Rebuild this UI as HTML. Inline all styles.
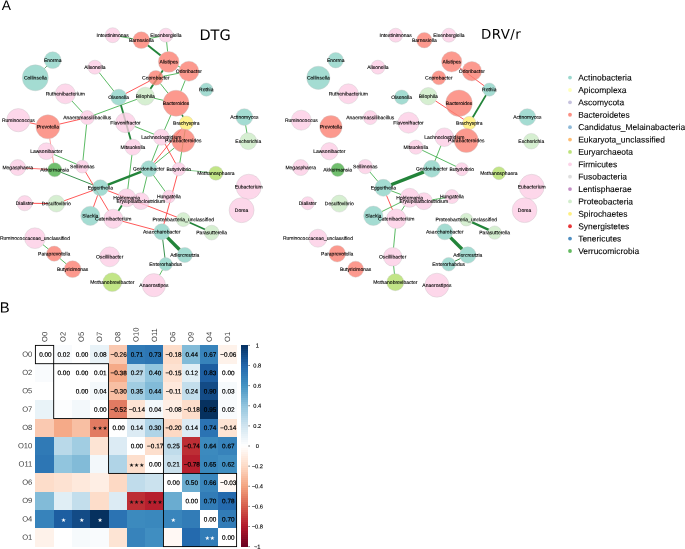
<!DOCTYPE html>
<html><head><meta charset="utf-8"><title>Figure</title><style>
html,body{margin:0;padding:0;background:#fff}
svg{display:block}
text{font-family:"Liberation Sans","DejaVu Sans",sans-serif;fill:#000}
.nl text{font-size:5px;text-anchor:middle;stroke:#000;stroke-width:.1px}
.pl{font-size:14.8px}
.tt{font-family:"DejaVu Sans","Liberation Sans",sans-serif}
.lg text{font-size:8.45px;stroke:#000;stroke-width:.1px}
.cv text{font-size:6.4px;text-anchor:middle;stroke:#000;stroke-width:.2px}
.st text{font-size:5.7px;text-anchor:middle;font-family:"DejaVu Sans",sans-serif}
.rl text{font-size:7.6px;fill:#3a3a3a}
.cl text{font-size:5.7px;text-anchor:middle;stroke:#000;stroke-width:.12px}
</style></head>
<body><svg width="685" height="549" viewBox="0 0 685 549">
<rect width="685" height="549" fill="#fff"/>
<g stroke-linecap="butt">
<line x1="119.89" y1="36.46" x2="133.22" y2="38.79" stroke="#3DAE48" stroke-width="0.85"/>
<line x1="149.34" y1="38.57" x2="159.24" y2="36.55" stroke="#3DAE48" stroke-width="0.85"/>
<line x1="166.61" y1="41.96" x2="167.63" y2="51.66" stroke="#3DAE48" stroke-width="0.85"/>
<line x1="46.93" y1="66.03" x2="44.3" y2="68.7" stroke="#23843A" stroke-width="0.7"/>
<line x1="99.13" y1="72.53" x2="113.85" y2="91.09" stroke="#3DAE48" stroke-width="0.85"/>
<line x1="71.95" y1="101" x2="82.68" y2="112.61" stroke="#3DAE48" stroke-width="0.85"/>
<line x1="93.68" y1="115.25" x2="137.04" y2="99.25" stroke="#3DAE48" stroke-width="0.85"/>
<line x1="86.61" y1="124.36" x2="82.93" y2="160.43" stroke="#3DAE48" stroke-width="0.85"/>
<line x1="53.84" y1="154.43" x2="76.6" y2="164.16" stroke="#3DAE48" stroke-width="0.85"/>
<line x1="162.86" y1="76.39" x2="179.29" y2="73.12" stroke="#3DAE48" stroke-width="0.85"/>
<line x1="177.95" y1="66.1" x2="180.01" y2="67.07" stroke="#3DAE48" stroke-width="0.85"/>
<line x1="160.28" y1="83.44" x2="168.03" y2="93.18" stroke="#3DAE48" stroke-width="0.85"/>
<line x1="185.24" y1="80.29" x2="180.79" y2="91.33" stroke="#3DAE48" stroke-width="0.85"/>
<line x1="153.88" y1="98.16" x2="163.52" y2="100.35" stroke="#3DAE48" stroke-width="0.85"/>
<line x1="170.92" y1="114.95" x2="164.4" y2="130.04" stroke="#3DAE48" stroke-width="0.85"/>
<line x1="181.91" y1="114.56" x2="183.16" y2="116.97" stroke="#23843A" stroke-width="1.5"/>
<line x1="185.21" y1="129.71" x2="179.83" y2="162.88" stroke="#3DAE48" stroke-width="0.85"/>
<line x1="134.58" y1="126.38" x2="154.07" y2="134.27" stroke="#3DAE48" stroke-width="0.85"/>
<line x1="158.43" y1="144.45" x2="151.67" y2="161.55" stroke="#3DAE48" stroke-width="0.85"/>
<line x1="174.47" y1="147.81" x2="154.84" y2="163.86" stroke="#3DAE48" stroke-width="0.85"/>
<line x1="185.16" y1="169.89" x2="209.14" y2="172.47" stroke="#3DAE48" stroke-width="0.6"/>
<line x1="153.37" y1="175.12" x2="165.27" y2="191.58" stroke="#3DAE48" stroke-width="0.85"/>
<line x1="146.95" y1="176.38" x2="142.84" y2="193.23" stroke="#3DAE48" stroke-width="0.85"/>
<line x1="131.95" y1="154.94" x2="127.77" y2="189.07" stroke="#3DAE48" stroke-width="0.85"/>
<line x1="245.64" y1="125.19" x2="246.96" y2="133.11" stroke="#3DAE48" stroke-width="0.85"/>
<line x1="42.85" y1="244.59" x2="48.43" y2="249.07" stroke="#3DAE48" stroke-width="0.85"/>
<line x1="59.86" y1="258.47" x2="66.33" y2="263.92" stroke="#3DAE48" stroke-width="0.85"/>
<line x1="162.56" y1="269.78" x2="159.48" y2="275.26" stroke="#3DAE48" stroke-width="0.85"/>
<line x1="147.74" y1="45.28" x2="160.69" y2="55.49" stroke="#23843A" stroke-width="1.9"/>
<line x1="162.96" y1="70.23" x2="150.25" y2="88.92" stroke="#23843A" stroke-width="1.9"/>
<line x1="120.83" y1="104.7" x2="130.77" y2="139.7" stroke="#23843A" stroke-width="1.8"/>
<line x1="107.56" y1="184.95" x2="141.54" y2="171.65" stroke="#23843A" stroke-width="2.4"/>
<line x1="61.03" y1="172.3" x2="93.04" y2="184.94" stroke="#23843A" stroke-width="0.9"/>
<line x1="121.97" y1="205.22" x2="118.36" y2="210.88" stroke="#23843A" stroke-width="1.8"/>
<line x1="189.48" y1="222.43" x2="205.15" y2="229.6" stroke="#23843A" stroke-width="1.6"/>
<line x1="167.29" y1="237.34" x2="179.59" y2="249.74" stroke="#23843A" stroke-width="3.4"/>
<line x1="162.73" y1="239.54" x2="164.94" y2="257.85" stroke="#23843A" stroke-width="0.9"/>
<line x1="125.61" y1="93.59" x2="149.42" y2="81.14" stroke="#FF3B3B" stroke-width="0.85"/>
<line x1="29.43" y1="122.68" x2="36.38" y2="124.23" stroke="#FF3B3B" stroke-width="0.85"/>
<line x1="59.39" y1="124.12" x2="80.68" y2="119.15" stroke="#FF3B3B" stroke-width="0.85"/>
<line x1="49.74" y1="138.46" x2="53.64" y2="163.08" stroke="#FF8A8A" stroke-width="0.85"/>
<line x1="25.49" y1="168.06" x2="47.91" y2="169.4" stroke="#FF3B3B" stroke-width="0.7"/>
<line x1="85.47" y1="171.93" x2="108.5" y2="210.72" stroke="#FF3B3B" stroke-width="0.85"/>
<line x1="92.96" y1="190.44" x2="64.02" y2="200.83" stroke="#FF3B3B" stroke-width="0.85"/>
<line x1="32.1" y1="203.29" x2="48.1" y2="203.5" stroke="#FF3B3B" stroke-width="0.9"/>
<line x1="97.68" y1="195.15" x2="93.46" y2="206.95" stroke="#FF3B3B" stroke-width="0.85"/>
<line x1="107.58" y1="190.59" x2="176.95" y2="217.17" stroke="#FF3B3B" stroke-width="0.85"/>
<line x1="122.38" y1="221.23" x2="154.27" y2="229.78" stroke="#FF3B3B" stroke-width="0.85"/>
<line x1="177.12" y1="175.38" x2="163.84" y2="224.27" stroke="#FF3B3B" stroke-width="0.85"/>
<line x1="165.04" y1="144.04" x2="175.73" y2="163.58" stroke="#FF3B3B" stroke-width="0.85"/>
<line x1="181.99" y1="128.26" x2="153.74" y2="162.76" stroke="#FF3B3B" stroke-width="0.85"/>
</g>
<g stroke="#c4c4c4" stroke-width="0.4" fill-opacity="0.8" stroke-opacity="0.9">
<circle cx="112.7" cy="35.2" r="7.5" fill="#FCCDE5"/>
<circle cx="141.3" cy="40.2" r="8.4" fill="#FB8072"/>
<circle cx="165.9" cy="35.2" r="7" fill="#FCCDE5"/>
<circle cx="52.7" cy="60.2" r="8.4" fill="#8DD3C7"/>
<circle cx="35.3" cy="77.8" r="13" fill="#8DD3C7"/>
<circle cx="94.9" cy="67.2" r="7" fill="#FCCDE5"/>
<circle cx="168.7" cy="61.8" r="10.4" fill="#FB8072"/>
<circle cx="188.9" cy="71.2" r="10" fill="#FB8072"/>
<circle cx="155.8" cy="77.8" r="7.4" fill="#FB8072"/>
<circle cx="206.3" cy="89.6" r="6.6" fill="#8DD3C7"/>
<circle cx="65.3" cy="93.8" r="10" fill="#FCCDE5"/>
<circle cx="118.7" cy="97.2" r="8" fill="#8DD3C7"/>
<circle cx="145.3" cy="96.2" r="9" fill="#CCEBC5"/>
<circle cx="176" cy="103.2" r="13" fill="#FB8072"/>
<circle cx="18.3" cy="120.2" r="11.6" fill="#FCCDE5"/>
<circle cx="47.9" cy="126.8" r="12" fill="#FB8072"/>
<circle cx="87.3" cy="117.6" r="7" fill="#FCCDE5"/>
<circle cx="125.5" cy="122.7" r="10" fill="#FCCDE5"/>
<circle cx="186.3" cy="123" r="7" fill="#FFED6F"/>
<circle cx="244.3" cy="117.1" r="8.4" fill="#8DD3C7"/>
<circle cx="161.3" cy="137.2" r="8" fill="#FCCDE5"/>
<circle cx="183.3" cy="140.6" r="11.6" fill="#FB8072"/>
<circle cx="248.3" cy="141.2" r="8.4" fill="#CCEBC5"/>
<circle cx="132.9" cy="147.2" r="8" fill="#FCCDE5"/>
<circle cx="46.3" cy="151.2" r="8.4" fill="#FCCDE5"/>
<circle cx="17.7" cy="167.6" r="8" fill="#FCCDE5"/>
<circle cx="54.7" cy="169.8" r="7" fill="#4DAF4A"/>
<circle cx="82.3" cy="166.6" r="6.4" fill="#FCCDE5"/>
<circle cx="148.8" cy="168.8" r="8" fill="#8DD3C7"/>
<circle cx="178.8" cy="169.2" r="6.6" fill="#FCCDE5"/>
<circle cx="215.9" cy="173.2" r="7" fill="#B3DE69"/>
<circle cx="100.3" cy="187.8" r="8" fill="#8DD3C7"/>
<circle cx="248.7" cy="186.8" r="12.6" fill="#FCCDE5"/>
<circle cx="126.7" cy="197.8" r="9" fill="#FCCDE5"/>
<circle cx="140.9" cy="201.2" r="8.4" fill="#FCCDE5"/>
<circle cx="168.9" cy="196.6" r="6.4" fill="#FCCDE5"/>
<circle cx="24.7" cy="203.2" r="7.6" fill="#FCCDE5"/>
<circle cx="56.3" cy="203.6" r="8.4" fill="#CCEBC5"/>
<circle cx="241.6" cy="210.2" r="12.5" fill="#FCCDE5"/>
<circle cx="90.3" cy="215.8" r="9.6" fill="#8DD3C7"/>
<circle cx="113.3" cy="218.8" r="9.6" fill="#FCCDE5"/>
<circle cx="183.3" cy="219.6" r="7" fill="#CCEBC5"/>
<circle cx="161.8" cy="231.8" r="8" fill="#8DD3C7"/>
<circle cx="211.7" cy="232.6" r="7.4" fill="#CCEBC5"/>
<circle cx="34.9" cy="238.2" r="10.4" fill="#FCCDE5"/>
<circle cx="54.2" cy="253.7" r="7.6" fill="#FB8072"/>
<circle cx="184.8" cy="255" r="7.6" fill="#8DD3C7"/>
<circle cx="109.7" cy="256.8" r="10" fill="#FCCDE5"/>
<circle cx="165.7" cy="264.2" r="6.6" fill="#8DD3C7"/>
<circle cx="72.6" cy="269.2" r="8.4" fill="#FB8072"/>
<circle cx="112.3" cy="282.2" r="9.4" fill="#B3DE69"/>
<circle cx="153.9" cy="285.2" r="11.6" fill="#FCCDE5"/>
</g>
<g class="nl">
<text x="112.7" y="36.9" transform="rotate(.05 112.7 36.9)">Intestinimonas</text>
<text x="141.3" y="41.9" transform="rotate(.05 141.3 41.9)">Barnesiella</text>
<text x="165.9" y="36.9" transform="rotate(.05 165.9 36.9)">Eisenbergiella</text>
<text x="52.7" y="61.9" transform="rotate(.05 52.7 61.9)">Enorma</text>
<text x="35.3" y="79.5" transform="rotate(.05 35.3 79.5)">Collinsella</text>
<text x="94.9" y="68.9" transform="rotate(.05 94.9 68.9)">Alisonella</text>
<text x="168.7" y="63.5" transform="rotate(.05 168.7 63.5)">Alistipes</text>
<text x="188.9" y="72.9" transform="rotate(.05 188.9 72.9)">Odoribacter</text>
<text x="155.8" y="79.5" transform="rotate(.05 155.8 79.5)">Coprobacter</text>
<text x="206.3" y="91.3" transform="rotate(.05 206.3 91.3)">Rothia</text>
<text x="65.3" y="95.5" transform="rotate(.05 65.3 95.5)">Ruthenibacterium</text>
<text x="118.7" y="98.9" transform="rotate(.05 118.7 98.9)">Olsenella</text>
<text x="145.3" y="97.9" transform="rotate(.05 145.3 97.9)">Bilophila</text>
<text x="176" y="104.9" transform="rotate(.05 176 104.9)">Bacteroides</text>
<text x="18.3" y="121.9" transform="rotate(.05 18.3 121.9)">Ruminococcus</text>
<text x="47.9" y="128.5" transform="rotate(.05 47.9 128.5)">Prevotella</text>
<text x="87.3" y="119.3" transform="rotate(.05 87.3 119.3)">Anaeromassilibacillus</text>
<text x="125.5" y="124.4" transform="rotate(.05 125.5 124.4)">Flavonifractor</text>
<text x="186.3" y="124.7" transform="rotate(.05 186.3 124.7)">Brachyspira</text>
<text x="244.3" y="118.8" transform="rotate(.05 244.3 118.8)">Actinomyces</text>
<text x="161.3" y="138.9" transform="rotate(.05 161.3 138.9)">Lachnoclostridium</text>
<text x="183.3" y="142.3" transform="rotate(.05 183.3 142.3)">Parabacteroides</text>
<text x="248.3" y="142.9" transform="rotate(.05 248.3 142.9)">Escherichia</text>
<text x="132.9" y="148.9" transform="rotate(.05 132.9 148.9)">Mitsuokella</text>
<text x="46.3" y="152.9" transform="rotate(.05 46.3 152.9)">Lawsonibacter</text>
<text x="17.7" y="169.3" transform="rotate(.05 17.7 169.3)">Megasphaera</text>
<text x="54.7" y="171.5" transform="rotate(.05 54.7 171.5)">Akkermansia</text>
<text x="82.3" y="168.3" transform="rotate(.05 82.3 168.3)">Sellimonas</text>
<text x="148.8" y="170.5" transform="rotate(.05 148.8 170.5)">Gordonibacter</text>
<text x="178.8" y="170.9" transform="rotate(.05 178.8 170.9)">Butyrivibrio</text>
<text x="215.9" y="174.9" transform="rotate(.05 215.9 174.9)">Methanosphaera</text>
<text x="100.3" y="189.5" transform="rotate(.05 100.3 189.5)">Eggerthella</text>
<text x="248.7" y="188.5" transform="rotate(.05 248.7 188.5)">Eubacterium</text>
<text x="126.7" y="199.5" transform="rotate(.05 126.7 199.5)">Holdemania</text>
<text x="140.9" y="202.9" transform="rotate(.05 140.9 202.9)">Erysipelatoclostridium</text>
<text x="168.9" y="198.3" transform="rotate(.05 168.9 198.3)">Hungatella</text>
<text x="24.7" y="204.9" transform="rotate(.05 24.7 204.9)">Dialister</text>
<text x="56.3" y="205.3" transform="rotate(.05 56.3 205.3)">Desulfovibrio</text>
<text x="241.6" y="211.9" transform="rotate(.05 241.6 211.9)">Dorea</text>
<text x="90.3" y="217.5" transform="rotate(.05 90.3 217.5)">Slackia</text>
<text x="113.3" y="220.5" transform="rotate(.05 113.3 220.5)">Catenibacterium</text>
<text x="183.3" y="221.3" transform="rotate(.05 183.3 221.3)">Proteobacteria_unclassified</text>
<text x="161.8" y="233.5" transform="rotate(.05 161.8 233.5)">Asaccharobacter</text>
<text x="211.7" y="234.3" transform="rotate(.05 211.7 234.3)">Parasutterella</text>
<text x="34.9" y="239.9" transform="rotate(.05 34.9 239.9)">Ruminococcaceae_unclassified</text>
<text x="54.2" y="255.4" transform="rotate(.05 54.2 255.4)">Paraprevotella</text>
<text x="184.8" y="256.7" transform="rotate(.05 184.8 256.7)">Adlercreutzia</text>
<text x="109.7" y="258.5" transform="rotate(.05 109.7 258.5)">Oscillibacter</text>
<text x="165.7" y="265.9" transform="rotate(.05 165.7 265.9)">Enterorhabdus</text>
<text x="72.6" y="270.9" transform="rotate(.05 72.6 270.9)">Butyricimonas</text>
<text x="112.3" y="283.9" transform="rotate(.05 112.3 283.9)">Methanobrevibacter</text>
<text x="153.9" y="286.9" transform="rotate(.05 153.9 286.9)">Anaerostipes</text>
</g>
<g stroke-linecap="butt">
<line x1="459.74" y1="67.75" x2="484.15" y2="85.8" stroke="#FF3B3B" stroke-width="0.85"/>
<line x1="486.01" y1="95.09" x2="472.64" y2="117.42" stroke="#23843A" stroke-width="1.8"/>
<line x1="435.41" y1="100.85" x2="463.86" y2="119.44" stroke="#FF3B3B" stroke-width="0.85"/>
<line x1="422.12" y1="150.18" x2="456.12" y2="166.48" stroke="#3DAE48" stroke-width="0.85"/>
<line x1="440.95" y1="145.66" x2="434.85" y2="161.08" stroke="#3DAE48" stroke-width="0.85"/>
<line x1="369.83" y1="171.94" x2="377.93" y2="181.47" stroke="#3DAE48" stroke-width="0.85"/>
<line x1="391.03" y1="184.77" x2="424.07" y2="171.83" stroke="#23843A" stroke-width="3.4"/>
<line x1="391.06" y1="190.74" x2="401" y2="194.51" stroke="#3DAE48" stroke-width="0.85"/>
<line x1="386.51" y1="195.45" x2="392.59" y2="209.95" stroke="#FF3B3B" stroke-width="0.85"/>
<line x1="381.82" y1="211.59" x2="401.36" y2="201.92" stroke="#3DAE48" stroke-width="0.85"/>
<line x1="404.7" y1="205.64" x2="401.46" y2="210.71" stroke="#3DAE48" stroke-width="0.85"/>
<line x1="432.09" y1="199.85" x2="445.19" y2="197.7" stroke="#3DAE48" stroke-width="0.85"/>
<line x1="395.39" y1="228.36" x2="393.56" y2="247.74" stroke="#3DAE48" stroke-width="0.85"/>
<line x1="393.63" y1="265.85" x2="394.45" y2="273.94" stroke="#3DAE48" stroke-width="0.85"/>
<line x1="471.94" y1="222.18" x2="488.79" y2="229.89" stroke="#23843A" stroke-width="2.3"/>
<line x1="450.29" y1="237.34" x2="462.17" y2="249.32" stroke="#23843A" stroke-width="3.4"/>
<line x1="460.59" y1="258.47" x2="454.65" y2="261.34" stroke="#23843A" stroke-width="0.9"/>
</g>
<g stroke="#c4c4c4" stroke-width="0.4" fill-opacity="0.8" stroke-opacity="0.9">
<circle cx="395.7" cy="35.2" r="7" fill="#FCCDE5"/>
<circle cx="424.3" cy="40.2" r="7.7" fill="#FB8072"/>
<circle cx="448.9" cy="35.2" r="7" fill="#FCCDE5"/>
<circle cx="335.7" cy="60.2" r="7.7" fill="#8DD3C7"/>
<circle cx="318.3" cy="77.8" r="11.6" fill="#8DD3C7"/>
<circle cx="377.9" cy="67.2" r="7" fill="#FCCDE5"/>
<circle cx="451.7" cy="61.8" r="10.2" fill="#FB8072"/>
<circle cx="471.9" cy="71.2" r="9.7" fill="#FB8072"/>
<circle cx="438.8" cy="77.8" r="7" fill="#FB8072"/>
<circle cx="489.3" cy="89.6" r="6.6" fill="#8DD3C7"/>
<circle cx="348.3" cy="93.8" r="10" fill="#FCCDE5"/>
<circle cx="401.7" cy="97.2" r="7.2" fill="#8DD3C7"/>
<circle cx="428.3" cy="96.2" r="8.7" fill="#CCEBC5"/>
<circle cx="459" cy="103.2" r="13.3" fill="#FB8072"/>
<circle cx="301.3" cy="120.2" r="10" fill="#FCCDE5"/>
<circle cx="330.9" cy="126.8" r="11.2" fill="#FB8072"/>
<circle cx="370.3" cy="117.6" r="7" fill="#FCCDE5"/>
<circle cx="408.5" cy="122.7" r="10.5" fill="#FCCDE5"/>
<circle cx="469.3" cy="123" r="6.7" fill="#FFED6F"/>
<circle cx="527.3" cy="117.1" r="8.4" fill="#8DD3C7"/>
<circle cx="444.3" cy="137.2" r="9.3" fill="#FCCDE5"/>
<circle cx="466.3" cy="140.6" r="12" fill="#FB8072"/>
<circle cx="531.3" cy="141.2" r="7.8" fill="#CCEBC5"/>
<circle cx="415.9" cy="147.2" r="7.1" fill="#FCCDE5"/>
<circle cx="329.3" cy="151.2" r="8.6" fill="#FCCDE5"/>
<circle cx="300.7" cy="167.6" r="8" fill="#FCCDE5"/>
<circle cx="337.7" cy="169.8" r="6.7" fill="#4DAF4A"/>
<circle cx="365.3" cy="166.6" r="7.2" fill="#FCCDE5"/>
<circle cx="431.8" cy="168.8" r="8.5" fill="#8DD3C7"/>
<circle cx="461.8" cy="169.2" r="6.5" fill="#FCCDE5"/>
<circle cx="498.9" cy="173.2" r="6.5" fill="#B3DE69"/>
<circle cx="383.3" cy="187.8" r="8.5" fill="#8DD3C7"/>
<circle cx="531.7" cy="186.8" r="12.5" fill="#FCCDE5"/>
<circle cx="409.7" cy="197.8" r="9.5" fill="#FCCDE5"/>
<circle cx="423.9" cy="201.2" r="8.5" fill="#FCCDE5"/>
<circle cx="451.9" cy="196.6" r="7" fill="#FCCDE5"/>
<circle cx="307.7" cy="203.2" r="6.5" fill="#FCCDE5"/>
<circle cx="339.3" cy="203.6" r="8.5" fill="#CCEBC5"/>
<circle cx="524.6" cy="210.2" r="12.4" fill="#FCCDE5"/>
<circle cx="373.3" cy="215.8" r="9.7" fill="#8DD3C7"/>
<circle cx="396.3" cy="218.8" r="9.8" fill="#FCCDE5"/>
<circle cx="466.3" cy="219.6" r="6.4" fill="#CCEBC5"/>
<circle cx="444.8" cy="231.8" r="8" fill="#8DD3C7"/>
<circle cx="494.7" cy="232.6" r="6.7" fill="#CCEBC5"/>
<circle cx="317.9" cy="238.2" r="9" fill="#FCCDE5"/>
<circle cx="337.2" cy="253.7" r="8.3" fill="#FB8072"/>
<circle cx="467.8" cy="255" r="8.2" fill="#8DD3C7"/>
<circle cx="392.7" cy="256.8" r="9.3" fill="#FCCDE5"/>
<circle cx="448.7" cy="264.2" r="6.8" fill="#8DD3C7"/>
<circle cx="355.6" cy="269.2" r="8" fill="#FB8072"/>
<circle cx="395.3" cy="282.2" r="8.5" fill="#B3DE69"/>
<circle cx="436.9" cy="285.2" r="12" fill="#FCCDE5"/>
</g>
<g class="nl">
<text x="395.7" y="36.9" transform="rotate(.05 395.7 36.9)">Intestinimonas</text>
<text x="424.3" y="41.9" transform="rotate(.05 424.3 41.9)">Barnesiella</text>
<text x="448.9" y="36.9" transform="rotate(.05 448.9 36.9)">Eisenbergiella</text>
<text x="335.7" y="61.9" transform="rotate(.05 335.7 61.9)">Enorma</text>
<text x="318.3" y="79.5" transform="rotate(.05 318.3 79.5)">Collinsella</text>
<text x="377.9" y="68.9" transform="rotate(.05 377.9 68.9)">Alisonella</text>
<text x="451.7" y="63.5" transform="rotate(.05 451.7 63.5)">Alistipes</text>
<text x="471.9" y="72.9" transform="rotate(.05 471.9 72.9)">Odoribacter</text>
<text x="438.8" y="79.5" transform="rotate(.05 438.8 79.5)">Coprobacter</text>
<text x="489.3" y="91.3" transform="rotate(.05 489.3 91.3)">Rothia</text>
<text x="348.3" y="95.5" transform="rotate(.05 348.3 95.5)">Ruthenibacterium</text>
<text x="401.7" y="98.9" transform="rotate(.05 401.7 98.9)">Olsenella</text>
<text x="428.3" y="97.9" transform="rotate(.05 428.3 97.9)">Bilophila</text>
<text x="459" y="104.9" transform="rotate(.05 459 104.9)">Bacteroides</text>
<text x="301.3" y="121.9" transform="rotate(.05 301.3 121.9)">Ruminococcus</text>
<text x="330.9" y="128.5" transform="rotate(.05 330.9 128.5)">Prevotella</text>
<text x="370.3" y="119.3" transform="rotate(.05 370.3 119.3)">Anaeromassilibacillus</text>
<text x="408.5" y="124.4" transform="rotate(.05 408.5 124.4)">Flavonifractor</text>
<text x="469.3" y="124.7" transform="rotate(.05 469.3 124.7)">Brachyspira</text>
<text x="527.3" y="118.8" transform="rotate(.05 527.3 118.8)">Actinomyces</text>
<text x="444.3" y="138.9" transform="rotate(.05 444.3 138.9)">Lachnoclostridium</text>
<text x="466.3" y="142.3" transform="rotate(.05 466.3 142.3)">Parabacteroides</text>
<text x="531.3" y="142.9" transform="rotate(.05 531.3 142.9)">Escherichia</text>
<text x="415.9" y="148.9" transform="rotate(.05 415.9 148.9)">Mitsuokella</text>
<text x="329.3" y="152.9" transform="rotate(.05 329.3 152.9)">Lawsonibacter</text>
<text x="300.7" y="169.3" transform="rotate(.05 300.7 169.3)">Megasphaera</text>
<text x="337.7" y="171.5" transform="rotate(.05 337.7 171.5)">Akkermansia</text>
<text x="365.3" y="168.3" transform="rotate(.05 365.3 168.3)">Sellimonas</text>
<text x="431.8" y="170.5" transform="rotate(.05 431.8 170.5)">Gordonibacter</text>
<text x="461.8" y="170.9" transform="rotate(.05 461.8 170.9)">Butyrivibrio</text>
<text x="498.9" y="174.9" transform="rotate(.05 498.9 174.9)">Methanosphaera</text>
<text x="383.3" y="189.5" transform="rotate(.05 383.3 189.5)">Eggerthella</text>
<text x="531.7" y="188.5" transform="rotate(.05 531.7 188.5)">Eubacterium</text>
<text x="409.7" y="199.5" transform="rotate(.05 409.7 199.5)">Holdemania</text>
<text x="423.9" y="202.9" transform="rotate(.05 423.9 202.9)">Erysipelatoclostridium</text>
<text x="451.9" y="198.3" transform="rotate(.05 451.9 198.3)">Hungatella</text>
<text x="307.7" y="204.9" transform="rotate(.05 307.7 204.9)">Dialister</text>
<text x="339.3" y="205.3" transform="rotate(.05 339.3 205.3)">Desulfovibrio</text>
<text x="524.6" y="211.9" transform="rotate(.05 524.6 211.9)">Dorea</text>
<text x="373.3" y="217.5" transform="rotate(.05 373.3 217.5)">Slackia</text>
<text x="396.3" y="220.5" transform="rotate(.05 396.3 220.5)">Catenibacterium</text>
<text x="466.3" y="221.3" transform="rotate(.05 466.3 221.3)">Proteobacteria_unclassified</text>
<text x="444.8" y="233.5" transform="rotate(.05 444.8 233.5)">Asaccharobacter</text>
<text x="494.7" y="234.3" transform="rotate(.05 494.7 234.3)">Parasutterella</text>
<text x="317.9" y="239.9" transform="rotate(.05 317.9 239.9)">Ruminococcaceae_unclassified</text>
<text x="337.2" y="255.4" transform="rotate(.05 337.2 255.4)">Paraprevotella</text>
<text x="467.8" y="256.7" transform="rotate(.05 467.8 256.7)">Adlercreutzia</text>
<text x="392.7" y="258.5" transform="rotate(.05 392.7 258.5)">Oscillibacter</text>
<text x="448.7" y="265.9" transform="rotate(.05 448.7 265.9)">Enterorhabdus</text>
<text x="355.6" y="270.9" transform="rotate(.05 355.6 270.9)">Butyricimonas</text>
<text x="395.3" y="283.9" transform="rotate(.05 395.3 283.9)">Methanobrevibacter</text>
<text x="436.9" y="286.9" transform="rotate(.05 436.9 286.9)">Anaerostipes</text>
</g>
<text class="pl" x="1.7" y="10" style="font-size:13.8px" transform="rotate(.05 1.7 10)">A</text>
<text class="pl" x="-0.2" y="312.6" transform="rotate(.05 -0.2 312.6)">B</text>
<text class="tt" x="199.4" y="40" font-size="14.5" transform="rotate(.05 199.4 40)">DTG</text>
<text class="tt" x="480.9" y="38.7" font-size="13.4" letter-spacing=".45" transform="rotate(.05 480.9 38.7)">DRV/r</text>
<g class="lg">
<circle cx="570" cy="77.6" r="1.9" fill="#8DD3C7" fill-opacity=".88"/><text x="578.2" y="80.5" transform="rotate(.05 578.2 80.5)">Actinobacteria</text>
<circle cx="570" cy="89.99" r="1.9" fill="#FFFFB3" fill-opacity=".88"/><text x="578.2" y="92.89" transform="rotate(.05 578.2 92.89)">Apicomplexa</text>
<circle cx="570" cy="102.37" r="1.9" fill="#BEBADA" fill-opacity=".88"/><text x="578.2" y="105.27" transform="rotate(.05 578.2 105.27)">Ascomycota</text>
<circle cx="570" cy="114.76" r="1.9" fill="#FB8072" fill-opacity=".88"/><text x="578.2" y="117.66" transform="rotate(.05 578.2 117.66)">Bacteroidetes</text>
<circle cx="570" cy="127.14" r="1.9" fill="#80B1D3" fill-opacity=".88"/><text x="578.2" y="130.04" transform="rotate(.05 578.2 130.04)">Candidatus_Melainabacteria</text>
<circle cx="570" cy="139.53" r="1.9" fill="#FDB462" fill-opacity=".88"/><text x="578.2" y="142.43" transform="rotate(.05 578.2 142.43)">Eukaryota_unclassified</text>
<circle cx="570" cy="151.92" r="1.9" fill="#B3DE69" fill-opacity=".88"/><text x="578.2" y="154.82" transform="rotate(.05 578.2 154.82)">Euryarchaeota</text>
<circle cx="570" cy="164.3" r="1.9" fill="#FCCDE5" fill-opacity=".88"/><text x="578.2" y="167.2" transform="rotate(.05 578.2 167.2)">Firmicutes</text>
<circle cx="570" cy="176.69" r="1.9" fill="#D9D9D9" fill-opacity=".88"/><text x="578.2" y="179.59" transform="rotate(.05 578.2 179.59)">Fusobacteria</text>
<circle cx="570" cy="189.07" r="1.9" fill="#BC80BD" fill-opacity=".88"/><text x="578.2" y="191.97" transform="rotate(.05 578.2 191.97)">Lentisphaerae</text>
<circle cx="570" cy="201.46" r="1.9" fill="#CCEBC5" fill-opacity=".88"/><text x="578.2" y="204.36" transform="rotate(.05 578.2 204.36)">Proteobacteria</text>
<circle cx="570" cy="213.85" r="1.9" fill="#FFED6F" fill-opacity=".88"/><text x="578.2" y="216.75" transform="rotate(.05 578.2 216.75)">Spirochaetes</text>
<circle cx="570" cy="226.23" r="1.9" fill="#E41A1C" fill-opacity=".88"/><text x="578.2" y="229.13" transform="rotate(.05 578.2 229.13)">Synergistetes</text>
<circle cx="570" cy="238.62" r="1.9" fill="#377EB8" fill-opacity=".88"/><text x="578.2" y="241.52" transform="rotate(.05 578.2 241.52)">Tenericutes</text>
<circle cx="570" cy="251" r="1.9" fill="#4DAF4A" fill-opacity=".88"/><text x="578.2" y="253.9" transform="rotate(.05 578.2 253.9)">Verrucomicrobia</text>
</g>
<g shape-rendering="crispEdges">
<rect x="53.69" y="345.4" width="18.34" height="18.34" fill="#F9FBFD"/>
<rect x="90.27" y="345.4" width="18.34" height="18.34" fill="#E9F3F8"/>
<rect x="108.56" y="345.4" width="18.34" height="18.34" fill="#FAC9B1"/>
<rect x="126.85" y="345.4" width="18.34" height="18.34" fill="#307AB6"/>
<rect x="145.15" y="345.4" width="18.34" height="18.34" fill="#2D76B4"/>
<rect x="163.44" y="345.4" width="18.34" height="18.34" fill="#FDDDCA"/>
<rect x="181.73" y="345.4" width="18.34" height="18.34" fill="#82BBD8"/>
<rect x="200.02" y="345.4" width="18.34" height="18.34" fill="#3783BB"/>
<rect x="218.31" y="345.4" width="18.34" height="18.34" fill="#FEF2EA"/>
<rect x="35.4" y="363.69" width="18.34" height="18.34" fill="#F9FBFD"/>
<rect x="90.27" y="363.69" width="18.34" height="18.34" fill="#FCFDFE"/>
<rect x="108.56" y="363.69" width="18.34" height="18.34" fill="#F5AA88"/>
<rect x="126.85" y="363.69" width="18.34" height="18.34" fill="#B9D9E9"/>
<rect x="145.15" y="363.69" width="18.34" height="18.34" fill="#91C5DE"/>
<rect x="163.44" y="363.69" width="18.34" height="18.34" fill="#FDE2D2"/>
<rect x="181.73" y="363.69" width="18.34" height="18.34" fill="#E0EEF5"/>
<rect x="200.02" y="363.69" width="18.34" height="18.34" fill="#1D5EA1"/>
<rect x="90.27" y="381.98" width="18.34" height="18.34" fill="#F3F8FB"/>
<rect x="108.56" y="381.98" width="18.34" height="18.34" fill="#F8BFA3"/>
<rect x="126.85" y="381.98" width="18.34" height="18.34" fill="#A1CDE2"/>
<rect x="145.15" y="381.98" width="18.34" height="18.34" fill="#82BBD8"/>
<rect x="163.44" y="381.98" width="18.34" height="18.34" fill="#FEE9DC"/>
<rect x="181.73" y="381.98" width="18.34" height="18.34" fill="#C3DEEC"/>
<rect x="200.02" y="381.98" width="18.34" height="18.34" fill="#134B86"/>
<rect x="218.31" y="381.98" width="18.34" height="18.34" fill="#F6FAFC"/>
<rect x="35.4" y="400.27" width="18.34" height="18.34" fill="#E9F3F8"/>
<rect x="53.69" y="400.27" width="18.34" height="18.34" fill="#FCFDFE"/>
<rect x="71.98" y="400.27" width="18.34" height="18.34" fill="#F3F8FB"/>
<rect x="108.56" y="400.27" width="18.34" height="18.34" fill="#E27B62"/>
<rect x="126.85" y="400.27" width="18.34" height="18.34" fill="#FDE4D4"/>
<rect x="145.15" y="400.27" width="18.34" height="18.34" fill="#F3F8FB"/>
<rect x="163.44" y="400.27" width="18.34" height="18.34" fill="#FEEEE4"/>
<rect x="181.73" y="400.27" width="18.34" height="18.34" fill="#FDDDCA"/>
<rect x="200.02" y="400.27" width="18.34" height="18.34" fill="#06315F"/>
<rect x="218.31" y="400.27" width="18.34" height="18.34" fill="#F9FBFD"/>
<rect x="35.4" y="418.56" width="18.34" height="18.34" fill="#FAC9B1"/>
<rect x="53.69" y="418.56" width="18.34" height="18.34" fill="#F5AA88"/>
<rect x="71.98" y="418.56" width="18.34" height="18.34" fill="#F8BFA3"/>
<rect x="90.27" y="418.56" width="18.34" height="18.34" fill="#E27B62"/>
<rect x="126.85" y="418.56" width="18.34" height="18.34" fill="#DCEBF4"/>
<rect x="145.15" y="418.56" width="18.34" height="18.34" fill="#B0D4E7"/>
<rect x="163.44" y="418.56" width="18.34" height="18.34" fill="#FDD9C4"/>
<rect x="181.73" y="418.56" width="18.34" height="18.34" fill="#DCEBF4"/>
<rect x="200.02" y="418.56" width="18.34" height="18.34" fill="#2B73B3"/>
<rect x="218.31" y="418.56" width="18.34" height="18.34" fill="#FDE4D4"/>
<rect x="35.4" y="436.85" width="18.34" height="18.34" fill="#307AB6"/>
<rect x="53.69" y="436.85" width="18.34" height="18.34" fill="#B9D9E9"/>
<rect x="71.98" y="436.85" width="18.34" height="18.34" fill="#A1CDE2"/>
<rect x="90.27" y="436.85" width="18.34" height="18.34" fill="#FDE4D4"/>
<rect x="108.56" y="436.85" width="18.34" height="18.34" fill="#DCEBF4"/>
<rect x="145.15" y="436.85" width="18.34" height="18.34" fill="#FDDFCD"/>
<rect x="163.44" y="436.85" width="18.34" height="18.34" fill="#C0DCEB"/>
<rect x="181.73" y="436.85" width="18.34" height="18.34" fill="#BD2E35"/>
<rect x="200.02" y="436.85" width="18.34" height="18.34" fill="#3C8ABE"/>
<rect x="218.31" y="436.85" width="18.34" height="18.34" fill="#3783BB"/>
<rect x="35.4" y="455.15" width="18.34" height="18.34" fill="#2D76B4"/>
<rect x="53.69" y="455.15" width="18.34" height="18.34" fill="#91C5DE"/>
<rect x="71.98" y="455.15" width="18.34" height="18.34" fill="#82BBD8"/>
<rect x="90.27" y="455.15" width="18.34" height="18.34" fill="#F3F8FB"/>
<rect x="108.56" y="455.15" width="18.34" height="18.34" fill="#B0D4E7"/>
<rect x="126.85" y="455.15" width="18.34" height="18.34" fill="#FDDFCD"/>
<rect x="163.44" y="455.15" width="18.34" height="18.34" fill="#CBE2EE"/>
<rect x="181.73" y="455.15" width="18.34" height="18.34" fill="#B61F2E"/>
<rect x="200.02" y="455.15" width="18.34" height="18.34" fill="#3A88BD"/>
<rect x="218.31" y="455.15" width="18.34" height="18.34" fill="#408EC1"/>
<rect x="35.4" y="473.44" width="18.34" height="18.34" fill="#FDDDCA"/>
<rect x="53.69" y="473.44" width="18.34" height="18.34" fill="#FDE2D2"/>
<rect x="71.98" y="473.44" width="18.34" height="18.34" fill="#FEE9DC"/>
<rect x="90.27" y="473.44" width="18.34" height="18.34" fill="#FEEEE4"/>
<rect x="108.56" y="473.44" width="18.34" height="18.34" fill="#FDD9C4"/>
<rect x="126.85" y="473.44" width="18.34" height="18.34" fill="#C0DCEB"/>
<rect x="145.15" y="473.44" width="18.34" height="18.34" fill="#CBE2EE"/>
<rect x="181.73" y="473.44" width="18.34" height="18.34" fill="#6AACD0"/>
<rect x="200.02" y="473.44" width="18.34" height="18.34" fill="#3985BC"/>
<rect x="218.31" y="473.44" width="18.34" height="18.34" fill="#FFF8F4"/>
<rect x="35.4" y="491.73" width="18.34" height="18.34" fill="#82BBD8"/>
<rect x="53.69" y="491.73" width="18.34" height="18.34" fill="#E0EEF5"/>
<rect x="71.98" y="491.73" width="18.34" height="18.34" fill="#C3DEEC"/>
<rect x="90.27" y="491.73" width="18.34" height="18.34" fill="#FDDDCA"/>
<rect x="108.56" y="491.73" width="18.34" height="18.34" fill="#DCEBF4"/>
<rect x="126.85" y="491.73" width="18.34" height="18.34" fill="#BD2E35"/>
<rect x="145.15" y="491.73" width="18.34" height="18.34" fill="#B61F2E"/>
<rect x="163.44" y="491.73" width="18.34" height="18.34" fill="#6AACD0"/>
<rect x="200.02" y="491.73" width="18.34" height="18.34" fill="#327CB7"/>
<rect x="218.31" y="491.73" width="18.34" height="18.34" fill="#246AAE"/>
<rect x="35.4" y="510.02" width="18.34" height="18.34" fill="#3783BB"/>
<rect x="53.69" y="510.02" width="18.34" height="18.34" fill="#1D5EA1"/>
<rect x="71.98" y="510.02" width="18.34" height="18.34" fill="#134B86"/>
<rect x="90.27" y="510.02" width="18.34" height="18.34" fill="#06315F"/>
<rect x="108.56" y="510.02" width="18.34" height="18.34" fill="#2B73B3"/>
<rect x="126.85" y="510.02" width="18.34" height="18.34" fill="#3C8ABE"/>
<rect x="145.15" y="510.02" width="18.34" height="18.34" fill="#3A88BD"/>
<rect x="163.44" y="510.02" width="18.34" height="18.34" fill="#3985BC"/>
<rect x="181.73" y="510.02" width="18.34" height="18.34" fill="#327CB7"/>
<rect x="218.31" y="510.02" width="18.34" height="18.34" fill="#327CB7"/>
<rect x="35.4" y="528.31" width="18.34" height="18.34" fill="#FEF2EA"/>
<rect x="71.98" y="528.31" width="18.34" height="18.34" fill="#F6FAFC"/>
<rect x="90.27" y="528.31" width="18.34" height="18.34" fill="#F9FBFD"/>
<rect x="108.56" y="528.31" width="18.34" height="18.34" fill="#FDE4D4"/>
<rect x="126.85" y="528.31" width="18.34" height="18.34" fill="#3783BB"/>
<rect x="145.15" y="528.31" width="18.34" height="18.34" fill="#408EC1"/>
<rect x="163.44" y="528.31" width="18.34" height="18.34" fill="#FFF8F4"/>
<rect x="181.73" y="528.31" width="18.34" height="18.34" fill="#246AAE"/>
<rect x="200.02" y="528.31" width="18.34" height="18.34" fill="#327CB7"/>
</g>
<g class="cv">
<text x="45.45" y="356.85" transform="rotate(.05 45.45 356.85)">0.00</text>
<text x="63.74" y="356.85" transform="rotate(.05 63.74 356.85)">0.02</text>
<text x="82.03" y="356.85" transform="rotate(.05 82.03 356.85)">0.00</text>
<text x="100.32" y="356.85" transform="rotate(.05 100.32 356.85)">0.08</text>
<text x="118.61" y="356.85" transform="rotate(.05 118.61 356.85)">−0.26</text>
<text x="136.9" y="356.85" transform="rotate(.05 136.9 356.85)">0.71</text>
<text x="155.19" y="356.85" transform="rotate(.05 155.19 356.85)">0.73</text>
<text x="173.48" y="356.85" transform="rotate(.05 173.48 356.85)">−0.18</text>
<text x="191.77" y="356.85" transform="rotate(.05 191.77 356.85)">0.44</text>
<text x="210.06" y="356.85" transform="rotate(.05 210.06 356.85)">0.67</text>
<text x="228.35" y="356.85" transform="rotate(.05 228.35 356.85)">−0.06</text>
<text x="63.74" y="375.14" transform="rotate(.05 63.74 375.14)">0.00</text>
<text x="82.03" y="375.14" transform="rotate(.05 82.03 375.14)">0.00</text>
<text x="100.32" y="375.14" transform="rotate(.05 100.32 375.14)">0.01</text>
<text x="118.61" y="375.14" transform="rotate(.05 118.61 375.14)">−0.38</text>
<text x="136.9" y="375.14" transform="rotate(.05 136.9 375.14)">0.27</text>
<text x="155.19" y="375.14" transform="rotate(.05 155.19 375.14)">0.40</text>
<text x="173.48" y="375.14" transform="rotate(.05 173.48 375.14)">−0.15</text>
<text x="191.77" y="375.14" transform="rotate(.05 191.77 375.14)">0.12</text>
<text x="210.06" y="375.14" transform="rotate(.05 210.06 375.14)">0.83</text>
<text x="228.35" y="375.14" transform="rotate(.05 228.35 375.14)">0.00</text>
<text x="82.03" y="393.43" transform="rotate(.05 82.03 393.43)">0.00</text>
<text x="100.32" y="393.43" transform="rotate(.05 100.32 393.43)">0.04</text>
<text x="118.61" y="393.43" transform="rotate(.05 118.61 393.43)">−0.30</text>
<text x="136.9" y="393.43" transform="rotate(.05 136.9 393.43)">0.35</text>
<text x="155.19" y="393.43" transform="rotate(.05 155.19 393.43)">0.44</text>
<text x="173.48" y="393.43" transform="rotate(.05 173.48 393.43)">−0.11</text>
<text x="191.77" y="393.43" transform="rotate(.05 191.77 393.43)">0.24</text>
<text x="210.06" y="393.43" transform="rotate(.05 210.06 393.43)">0.90</text>
<text x="228.35" y="393.43" transform="rotate(.05 228.35 393.43)">0.03</text>
<text x="100.32" y="411.72" transform="rotate(.05 100.32 411.72)">0.00</text>
<text x="118.61" y="411.72" transform="rotate(.05 118.61 411.72)">−0.52</text>
<text x="136.9" y="411.72" transform="rotate(.05 136.9 411.72)">−0.14</text>
<text x="155.19" y="411.72" transform="rotate(.05 155.19 411.72)">0.04</text>
<text x="173.48" y="411.72" transform="rotate(.05 173.48 411.72)">−0.08</text>
<text x="191.77" y="411.72" transform="rotate(.05 191.77 411.72)">−0.18</text>
<text x="210.06" y="411.72" transform="rotate(.05 210.06 411.72)">0.95</text>
<text x="228.35" y="411.72" transform="rotate(.05 228.35 411.72)">0.02</text>
<text x="118.61" y="430.01" transform="rotate(.05 118.61 430.01)">0.00</text>
<text x="136.9" y="430.01" transform="rotate(.05 136.9 430.01)">0.14</text>
<text x="155.19" y="430.01" transform="rotate(.05 155.19 430.01)">0.30</text>
<text x="173.48" y="430.01" transform="rotate(.05 173.48 430.01)">−0.20</text>
<text x="191.77" y="430.01" transform="rotate(.05 191.77 430.01)">0.14</text>
<text x="210.06" y="430.01" transform="rotate(.05 210.06 430.01)">0.74</text>
<text x="228.35" y="430.01" transform="rotate(.05 228.35 430.01)">−0.14</text>
<text x="136.9" y="448.3" transform="rotate(.05 136.9 448.3)">0.00</text>
<text x="155.19" y="448.3" transform="rotate(.05 155.19 448.3)">−0.17</text>
<text x="173.48" y="448.3" transform="rotate(.05 173.48 448.3)">0.25</text>
<text x="191.77" y="448.3" transform="rotate(.05 191.77 448.3)">−0.74</text>
<text x="210.06" y="448.3" transform="rotate(.05 210.06 448.3)">0.64</text>
<text x="228.35" y="448.3" transform="rotate(.05 228.35 448.3)">0.67</text>
<text x="155.19" y="466.59" transform="rotate(.05 155.19 466.59)">0.00</text>
<text x="173.48" y="466.59" transform="rotate(.05 173.48 466.59)">0.21</text>
<text x="191.77" y="466.59" transform="rotate(.05 191.77 466.59)">−0.78</text>
<text x="210.06" y="466.59" transform="rotate(.05 210.06 466.59)">0.65</text>
<text x="228.35" y="466.59" transform="rotate(.05 228.35 466.59)">0.62</text>
<text x="173.48" y="484.88" transform="rotate(.05 173.48 484.88)">0.00</text>
<text x="191.77" y="484.88" transform="rotate(.05 191.77 484.88)">0.50</text>
<text x="210.06" y="484.88" transform="rotate(.05 210.06 484.88)">0.66</text>
<text x="228.35" y="484.88" transform="rotate(.05 228.35 484.88)">−0.03</text>
<text x="191.77" y="503.17" transform="rotate(.05 191.77 503.17)">0.00</text>
<text x="210.06" y="503.17" transform="rotate(.05 210.06 503.17)">0.70</text>
<text x="228.35" y="503.17" transform="rotate(.05 228.35 503.17)">0.78</text>
<text x="210.06" y="521.46" transform="rotate(.05 210.06 521.46)">0.00</text>
<text x="228.35" y="521.46" transform="rotate(.05 228.35 521.46)">0.70</text>
<text x="228.35" y="539.75" transform="rotate(.05 228.35 539.75)">0.00</text>
</g>
<g class="st">
<text x="100.02" y="430.41" style="fill:#111">★★★</text>
<text x="136.6" y="466.99" style="fill:#111">★★★</text>
<text x="136.6" y="503.57" style="fill:#111">★★★</text>
<text x="154.89" y="503.57" style="fill:#111">★★★</text>
<text x="63.44" y="521.86" style="fill:#fff">★</text>
<text x="81.73" y="521.86" style="fill:#fff">★</text>
<text x="100.02" y="521.86" style="fill:#fff">★</text>
<text x="173.18" y="521.86" style="fill:#fff">★</text>
<text x="209.76" y="540.15" style="fill:#fff">★★</text>
</g>
<g fill="none" stroke="#000" stroke-width="0.9">
<rect x="35.4" y="345.4" width="18.29" height="18.29"/>
<rect x="53.69" y="363.69" width="54.87" height="54.87"/>
<rect x="108.56" y="418.56" width="54.87" height="54.87"/>
<rect x="163.44" y="473.44" width="73.16" height="73.16"/>
</g>
<g class="rl">
<text x="32.3" y="356.8" text-anchor="end" transform="rotate(.05 32.3 356.8)">O0</text>
<text x="32.3" y="375.09" text-anchor="end" transform="rotate(.05 32.3 375.09)">O2</text>
<text x="32.3" y="393.38" text-anchor="end" transform="rotate(.05 32.3 393.38)">O5</text>
<text x="32.3" y="411.67" text-anchor="end" transform="rotate(.05 32.3 411.67)">O7</text>
<text x="32.3" y="429.96" text-anchor="end" transform="rotate(.05 32.3 429.96)">O8</text>
<text x="32.3" y="448.25" text-anchor="end" transform="rotate(.05 32.3 448.25)">O10</text>
<text x="32.3" y="466.54" text-anchor="end" transform="rotate(.05 32.3 466.54)">O11</text>
<text x="32.3" y="484.83" text-anchor="end" transform="rotate(.05 32.3 484.83)">O6</text>
<text x="32.3" y="503.12" text-anchor="end" transform="rotate(.05 32.3 503.12)">O9</text>
<text x="32.3" y="521.41" text-anchor="end" transform="rotate(.05 32.3 521.41)">O4</text>
<text x="32.3" y="539.7" text-anchor="end" transform="rotate(.05 32.3 539.7)">O1</text>
<text transform="translate(47.15 342) rotate(-89.95)">O0</text>
<text transform="translate(65.44 342) rotate(-89.95)">O2</text>
<text transform="translate(83.73 342) rotate(-89.95)">O5</text>
<text transform="translate(102.02 342) rotate(-89.95)">O7</text>
<text transform="translate(120.31 342) rotate(-89.95)">O8</text>
<text transform="translate(138.6 342) rotate(-89.95)">O10</text>
<text transform="translate(156.89 342) rotate(-89.95)">O11</text>
<text transform="translate(175.18 342) rotate(-89.95)">O6</text>
<text transform="translate(193.47 342) rotate(-89.95)">O9</text>
<text transform="translate(211.76 342) rotate(-89.95)">O4</text>
<text transform="translate(230.05 342) rotate(-89.95)">O1</text>
</g>
<g shape-rendering="crispEdges">
<rect x="240.7" y="345.4" width="7.7" height="2.31" fill="#063365"/>
<rect x="240.7" y="347.41" width="7.7" height="2.31" fill="#09386C"/>
<rect x="240.7" y="349.42" width="7.7" height="2.31" fill="#0C3E74"/>
<rect x="240.7" y="351.44" width="7.7" height="2.31" fill="#0F437B"/>
<rect x="240.7" y="353.45" width="7.7" height="2.31" fill="#124883"/>
<rect x="240.7" y="355.46" width="7.7" height="2.31" fill="#144E8A"/>
<rect x="240.7" y="357.47" width="7.7" height="2.31" fill="#175392"/>
<rect x="240.7" y="359.48" width="7.7" height="2.31" fill="#1A5899"/>
<rect x="240.7" y="361.5" width="7.7" height="2.31" fill="#1D5EA1"/>
<rect x="240.7" y="363.51" width="7.7" height="2.31" fill="#2063A8"/>
<rect x="240.7" y="365.52" width="7.7" height="2.31" fill="#2368AD"/>
<rect x="240.7" y="367.53" width="7.7" height="2.31" fill="#266DAF"/>
<rect x="240.7" y="369.54" width="7.7" height="2.31" fill="#2A71B2"/>
<rect x="240.7" y="371.56" width="7.7" height="2.31" fill="#2D76B4"/>
<rect x="240.7" y="373.57" width="7.7" height="2.31" fill="#307AB6"/>
<rect x="240.7" y="375.58" width="7.7" height="2.31" fill="#347FB9"/>
<rect x="240.7" y="377.59" width="7.7" height="2.31" fill="#3783BB"/>
<rect x="240.7" y="379.6" width="7.7" height="2.31" fill="#3A88BD"/>
<rect x="240.7" y="381.62" width="7.7" height="2.31" fill="#3E8CC0"/>
<rect x="240.7" y="383.63" width="7.7" height="2.31" fill="#4191C2"/>
<rect x="240.7" y="385.64" width="7.7" height="2.31" fill="#4796C4"/>
<rect x="240.7" y="387.65" width="7.7" height="2.31" fill="#4F9AC7"/>
<rect x="240.7" y="389.66" width="7.7" height="2.31" fill="#57A0CA"/>
<rect x="240.7" y="391.68" width="7.7" height="2.31" fill="#5FA4CC"/>
<rect x="240.7" y="393.69" width="7.7" height="2.31" fill="#67AACF"/>
<rect x="240.7" y="395.7" width="7.7" height="2.31" fill="#6EAED2"/>
<rect x="240.7" y="397.71" width="7.7" height="2.31" fill="#76B4D5"/>
<rect x="240.7" y="399.72" width="7.7" height="2.31" fill="#7EB8D7"/>
<rect x="240.7" y="401.74" width="7.7" height="2.31" fill="#86BDDA"/>
<rect x="240.7" y="403.75" width="7.7" height="2.31" fill="#8EC2DD"/>
<rect x="240.7" y="405.76" width="7.7" height="2.31" fill="#95C7DF"/>
<rect x="240.7" y="407.77" width="7.7" height="2.31" fill="#9BCAE1"/>
<rect x="240.7" y="409.78" width="7.7" height="2.31" fill="#A2CDE2"/>
<rect x="240.7" y="411.8" width="7.7" height="2.31" fill="#A8D0E4"/>
<rect x="240.7" y="413.81" width="7.7" height="2.31" fill="#AED3E6"/>
<rect x="240.7" y="415.82" width="7.7" height="2.31" fill="#B5D7E8"/>
<rect x="240.7" y="417.83" width="7.7" height="2.31" fill="#BBDAEA"/>
<rect x="240.7" y="419.84" width="7.7" height="2.31" fill="#C1DDEC"/>
<rect x="240.7" y="421.86" width="7.7" height="2.31" fill="#C8E0ED"/>
<rect x="240.7" y="423.87" width="7.7" height="2.31" fill="#CEE3EF"/>
<rect x="240.7" y="425.88" width="7.7" height="2.31" fill="#D3E6F1"/>
<rect x="240.7" y="427.89" width="7.7" height="2.31" fill="#D8E9F2"/>
<rect x="240.7" y="429.9" width="7.7" height="2.31" fill="#DCECF4"/>
<rect x="240.7" y="431.92" width="7.7" height="2.31" fill="#E1EEF5"/>
<rect x="240.7" y="433.93" width="7.7" height="2.31" fill="#E6F1F7"/>
<rect x="240.7" y="435.94" width="7.7" height="2.31" fill="#EAF3F8"/>
<rect x="240.7" y="437.95" width="7.7" height="2.31" fill="#EFF6FA"/>
<rect x="240.7" y="439.96" width="7.7" height="2.31" fill="#F4F8FB"/>
<rect x="240.7" y="441.98" width="7.7" height="2.31" fill="#F8FBFD"/>
<rect x="240.7" y="443.99" width="7.7" height="2.31" fill="#FDFEFE"/>
<rect x="240.7" y="446" width="7.7" height="2.31" fill="#FFFDFC"/>
<rect x="240.7" y="448.01" width="7.7" height="2.31" fill="#FFFAF7"/>
<rect x="240.7" y="450.02" width="7.7" height="2.31" fill="#FEF6F1"/>
<rect x="240.7" y="452.04" width="7.7" height="2.31" fill="#FEF2EB"/>
<rect x="240.7" y="454.05" width="7.7" height="2.31" fill="#FEEFE6"/>
<rect x="240.7" y="456.06" width="7.7" height="2.31" fill="#FEEBE0"/>
<rect x="240.7" y="458.07" width="7.7" height="2.31" fill="#FEE8DB"/>
<rect x="240.7" y="460.08" width="7.7" height="2.31" fill="#FEE4D5"/>
<rect x="240.7" y="462.1" width="7.7" height="2.31" fill="#FDE0CF"/>
<rect x="240.7" y="464.11" width="7.7" height="2.31" fill="#FDDDCA"/>
<rect x="240.7" y="466.12" width="7.7" height="2.31" fill="#FDD8C4"/>
<rect x="240.7" y="468.13" width="7.7" height="2.31" fill="#FCD3BD"/>
<rect x="240.7" y="470.14" width="7.7" height="2.31" fill="#FBCEB6"/>
<rect x="240.7" y="472.16" width="7.7" height="2.31" fill="#FAC8AF"/>
<rect x="240.7" y="474.17" width="7.7" height="2.31" fill="#F9C3A8"/>
<rect x="240.7" y="476.18" width="7.7" height="2.31" fill="#F8BDA1"/>
<rect x="240.7" y="478.19" width="7.7" height="2.31" fill="#F7B89A"/>
<rect x="240.7" y="480.2" width="7.7" height="2.31" fill="#F6B293"/>
<rect x="240.7" y="482.22" width="7.7" height="2.31" fill="#F5AD8C"/>
<rect x="240.7" y="484.23" width="7.7" height="2.31" fill="#F4A885"/>
<rect x="240.7" y="486.24" width="7.7" height="2.31" fill="#F2A27F"/>
<rect x="240.7" y="488.25" width="7.7" height="2.31" fill="#F09B7A"/>
<rect x="240.7" y="490.26" width="7.7" height="2.31" fill="#EC9475"/>
<rect x="240.7" y="492.28" width="7.7" height="2.31" fill="#EA8D6F"/>
<rect x="240.7" y="494.29" width="7.7" height="2.31" fill="#E6866A"/>
<rect x="240.7" y="496.3" width="7.7" height="2.31" fill="#E47F65"/>
<rect x="240.7" y="498.31" width="7.7" height="2.31" fill="#E07860"/>
<rect x="240.7" y="500.32" width="7.7" height="2.31" fill="#DE715A"/>
<rect x="240.7" y="502.34" width="7.7" height="2.31" fill="#DA6A55"/>
<rect x="240.7" y="504.35" width="7.7" height="2.31" fill="#D86350"/>
<rect x="240.7" y="506.36" width="7.7" height="2.31" fill="#D45C4B"/>
<rect x="240.7" y="508.37" width="7.7" height="2.31" fill="#D15548"/>
<rect x="240.7" y="510.38" width="7.7" height="2.31" fill="#CD4E45"/>
<rect x="240.7" y="512.4" width="7.7" height="2.31" fill="#C94741"/>
<rect x="240.7" y="514.41" width="7.7" height="2.31" fill="#C6403E"/>
<rect x="240.7" y="516.42" width="7.7" height="2.31" fill="#C2383A"/>
<rect x="240.7" y="518.43" width="7.7" height="2.31" fill="#BF3137"/>
<rect x="240.7" y="520.44" width="7.7" height="2.31" fill="#BB2A34"/>
<rect x="240.7" y="522.46" width="7.7" height="2.31" fill="#B72330"/>
<rect x="240.7" y="524.47" width="7.7" height="2.31" fill="#B41C2D"/>
<rect x="240.7" y="526.48" width="7.7" height="2.31" fill="#AE172A"/>
<rect x="240.7" y="528.49" width="7.7" height="2.31" fill="#A71429"/>
<rect x="240.7" y="530.5" width="7.7" height="2.31" fill="#9F1228"/>
<rect x="240.7" y="532.52" width="7.7" height="2.31" fill="#981027"/>
<rect x="240.7" y="534.53" width="7.7" height="2.31" fill="#900D26"/>
<rect x="240.7" y="536.54" width="7.7" height="2.31" fill="#890B24"/>
<rect x="240.7" y="538.55" width="7.7" height="2.31" fill="#810823"/>
<rect x="240.7" y="540.56" width="7.7" height="2.31" fill="#7A0622"/>
<rect x="240.7" y="542.58" width="7.7" height="2.31" fill="#720421"/>
<rect x="240.7" y="544.59" width="7.7" height="2.31" fill="#6B0120"/>
</g>
<g class="cl">
<line x1="248.4" y1="345.4" x2="249.8" y2="345.4" stroke="#000" stroke-width="0.6"/>
<text x="257.3" y="347.45" transform="rotate(.05 257.3 347.45)">1</text>
<line x1="248.4" y1="365.52" x2="249.8" y2="365.52" stroke="#000" stroke-width="0.6"/>
<text x="257.3" y="367.57" transform="rotate(.05 257.3 367.57)">0.8</text>
<line x1="248.4" y1="385.64" x2="249.8" y2="385.64" stroke="#000" stroke-width="0.6"/>
<text x="257.3" y="387.69" transform="rotate(.05 257.3 387.69)">0.6</text>
<line x1="248.4" y1="405.76" x2="249.8" y2="405.76" stroke="#000" stroke-width="0.6"/>
<text x="257.3" y="407.81" transform="rotate(.05 257.3 407.81)">0.4</text>
<line x1="248.4" y1="425.88" x2="249.8" y2="425.88" stroke="#000" stroke-width="0.6"/>
<text x="257.3" y="427.93" transform="rotate(.05 257.3 427.93)">0.2</text>
<line x1="248.4" y1="446" x2="249.8" y2="446" stroke="#000" stroke-width="0.6"/>
<text x="257.3" y="448.05" transform="rotate(.05 257.3 448.05)">0</text>
<line x1="248.4" y1="466.12" x2="249.8" y2="466.12" stroke="#000" stroke-width="0.6"/>
<text x="257.3" y="468.17" transform="rotate(.05 257.3 468.17)">−0.2</text>
<line x1="248.4" y1="486.24" x2="249.8" y2="486.24" stroke="#000" stroke-width="0.6"/>
<text x="257.3" y="488.29" transform="rotate(.05 257.3 488.29)">−0.4</text>
<line x1="248.4" y1="506.36" x2="249.8" y2="506.36" stroke="#000" stroke-width="0.6"/>
<text x="257.3" y="508.41" transform="rotate(.05 257.3 508.41)">−0.6</text>
<line x1="248.4" y1="526.48" x2="249.8" y2="526.48" stroke="#000" stroke-width="0.6"/>
<text x="257.3" y="528.53" transform="rotate(.05 257.3 528.53)">−0.8</text>
<line x1="248.4" y1="546.6" x2="249.8" y2="546.6" stroke="#000" stroke-width="0.6"/>
<text x="257.3" y="548.65" transform="rotate(.05 257.3 548.65)">−1</text>
</g>
</svg></body></html>
